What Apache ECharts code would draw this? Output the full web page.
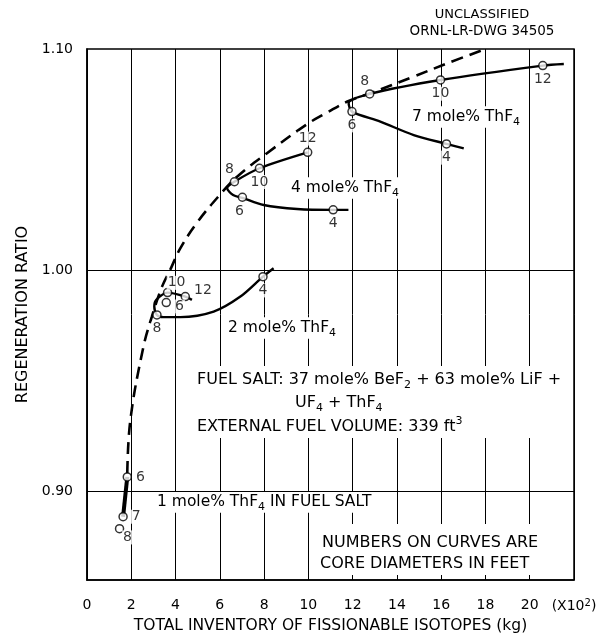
<!DOCTYPE html>
<html>
<head>
<meta charset="utf-8">
<script src="https://cdn.jsdelivr.net/npm/echarts@6/dist/echarts.min.js"></script>
<style>
  html, body { margin: 0; padding: 0; background: #fff; }
  #chart { width: 597px; height: 637px; }
</style>
</head>
<body>
<div id="chart"></div>
<script>
// axes: inventory in units of 100 kg, regeneration ratio
const xMin = 0, xMax = 22, xStep = 2;
const yMin = 0.86, yMax = 1.10, yStep = 0.02;
const yLabelValues = [0.90, 1.00, 1.10];
const yGridValues = [0.90, 1.00];

// dashed envelope curve
const envX = [1.82, 1.96, 2.54, 2.93, 3.39, 3.75, 4.22, 4.97, 5.95, 6.78, 8.13, 9.94, 10.83, 11.82, 12.8, 14.75, 16.27, 18.0];
const envY = [0.9084, 0.9324, 0.9650, 0.9790, 0.9926, 1.0000, 1.0100, 1.0215, 1.0335, 1.0423, 1.0529, 1.0660, 1.0712, 1.0765, 1.0800, 1.0875, 1.0935, 1.1000];

// 7 mole% ThF4
const c7TraceX = [21.54, 20.59, 15.97, 12.77, 11.82, 11.97, 13.25, 14.76, 16.24, 17.02];
const c7TraceY = [1.0932, 1.0925, 1.0860, 1.0797, 1.0755, 1.0717, 1.0672, 1.0611, 1.0571, 1.0551];
const c7Dia = [12, 10, 8, 6, 4];
const c7X = [20.59, 15.97, 12.77, 11.97, 16.24];
const c7Y = [1.0925, 1.0860, 1.0797, 1.0717, 1.0571];

// 4 mole% ThF4
const c4TraceX = [9.97, 7.79, 6.66, 6.33, 6.60, 7.02, 7.98, 9.49, 11.12, 11.81];
const c4TraceY = [1.0533, 1.0461, 1.0400, 1.0371, 1.0340, 1.0327, 1.0295, 1.0277, 1.0273, 1.0273];
const c4Dia = [12, 10, 8, 6, 4];
const c4X = [9.97, 7.79, 6.66, 7.02, 11.12];
const c4Y = [1.0533, 1.0461, 1.0400, 1.0330, 1.0273];

// 2 mole% ThF4
const c2TraceX = [4.74, 4.44, 3.64, 3.13, 3.04, 3.16, 3.46, 4.22, 5.72, 6.93, 7.95, 8.43];
const c2TraceY = [0.9866, 0.9881, 0.9899, 0.9866, 0.9836, 0.9798, 0.9788, 0.9788, 0.9813, 0.9881, 0.9971, 1.0009];
const c2Dia = [12, 10, 8, 6, 4];
const c2X = [4.44, 3.64, 3.16, 3.58, 7.95];
const c2Y = [0.9881, 0.9899, 0.9798, 0.9854, 0.9971];

// 1 mole% ThF4
const c1TraceX = [1.82, 1.63];
const c1TraceY = [0.9066, 0.8886];
const c1Dia = [6, 7, 8];
const c1X = [1.82, 1.63, 1.47];
const c1Y = [0.9066, 0.8886, 0.8832];

const FONT = '"DejaVu Sans", Verdana, sans-serif';
const zip = (xs, ys) => xs.map((x, i) => [x, ys[i]]);

// where the diameter numbers sit around each circle
const place = {
  bottom: { position: 'bottom', distance: 2 },
  top: { position: 'top', distance: 2 },
  right: { position: 'right', distance: 3 },
  topLeft: { position: 'top', distance: 1, offset: [-5, 0] },
  topRight: { position: 'top', distance: 0, offset: [9, 2] },
  bottomRight: { position: 'bottom', distance: 0, offset: [8, -3] },
  rightUp: { position: 'right', distance: 3, offset: [0, -6] },
  rightDown: { position: 'right', distance: 3, offset: [0, 4] },
  bottomLeft: { position: 'bottom', distance: 2, offset: [-3, 0] }
};
const labelPlace = {
  c7: { 12: 'bottom', 10: 'bottom', 8: 'topLeft', 6: 'bottom', 4: 'bottom' },
  c4: { 12: 'top', 10: 'bottom', 8: 'topLeft', 6: 'bottomLeft', 4: 'bottom' },
  c2: { 12: 'rightUp', 10: 'topRight', 8: 'bottom', 6: 'rightDown', 4: 'bottom' },
  c1: { 6: 'right', 7: 'right', 8: 'bottomRight' }
};

function traceSeries(xs, ys, width) {
  return {
    type: 'line', data: zip(xs, ys), showSymbol: false, smooth: 0.3, z: 3,
    lineStyle: { color: '#000', width: width || 2.4 }, silent: true
  };
}
function pointSeries(key, dia, xs, ys) {
  return {
    type: 'scatter', z: 4, symbol: 'circle', symbolSize: 8, silent: true,
    itemStyle: { color: '#fff', borderColor: '#000', borderWidth: 1.5 },
    data: dia.map((d, i) => ({
      value: [xs[i], ys[i]],
      label: Object.assign({ show: true, formatter: String(d) }, place[labelPlace[key][d]])
    })),
    label: { color: '#000', fontSize: 14, fontFamily: FONT, backgroundColor: '#fff', padding: [0, 1] }
  };
}

function richAt(size, extra) {
  const sub = Math.round(size * 0.68);
  const lh = size + (extra == null ? 6 : extra);
  return {
    n: { fontSize: size, fontFamily: FONT, color: '#000', lineHeight: lh, verticalAlign: 'middle' },
    sub: { fontSize: sub, fontFamily: FONT, color: '#000', lineHeight: lh, verticalAlign: 'bottom' },
    sup: { fontSize: sub, fontFamily: FONT, color: '#000', lineHeight: lh, verticalAlign: 'top' }
  };
}
function note(x, y, text, size, opts) {
  opts = opts || {};
  return {
    type: 'text', x: x, y: y, z: 1,
    style: {
      text: text, rich: richAt(size), fill: '#000', verticalAlign: 'middle',
      align: opts.align || 'left',
      backgroundColor: opts.bg === false ? null : '#fff', padding: [0, 3]
    }
  };
}

const chart = echarts.init(document.getElementById('chart'));
chart.setOption({
  animation: false,
  backgroundColor: '#fff',
  grid: {
    left: 87, right: 23, top: 49, bottom: 57, outerBoundsMode: 'none', containLabel: false,
    show: true, borderColor: '#000', borderWidth: 1.5
  },
  xAxis: {
    type: 'value', min: xMin, max: xMax, interval: xStep,
    name: 'TOTAL INVENTORY OF FISSIONABLE ISOTOPES (kg)', nameLocation: 'middle', nameGap: 38,
    nameTextStyle: { color: '#000', fontSize: 15.5, fontFamily: FONT },
    axisLine: { lineStyle: { color: '#000', width: 1.5 } },
    axisTick: { inside: true, length: 5, lineStyle: { color: '#000' } },
    splitLine: { show: true, lineStyle: { color: '#000', width: 1 } },
    axisLabel: {
      color: '#000', fontSize: 14, fontFamily: FONT, margin: 18, rich: richAt(14, 3),
      formatter: v => v === xMax ? '{n|(X10}{sup|2}{n|)}' : String(v)
    }
  },
  yAxis: {
    type: 'value', min: yMin, max: yMax, interval: yStep,
    name: 'REGENERATION RATIO', nameLocation: 'middle', nameGap: 56,
    nameTextStyle: { color: '#000', fontSize: 16, fontFamily: FONT },
    axisLine: { show: true, lineStyle: { color: '#000', width: 1.5 } },
    axisTick: { show: false },
    splitLine: { show: false },
    axisLabel: {
      color: '#000', fontSize: 14, fontFamily: FONT, margin: 14,
      formatter: v => yLabelValues.some(t => Math.abs(t - v) < 1e-6) ? v.toFixed(2) : ''
    }
  },
  graphic: [
    note(482, 15, '{n|UNCLASSIFIED}', 13, { align: 'center', bg: false }),
    note(482, 31, '{n|ORNL-LR-DWG 34505}', 13.5, { align: 'center', bg: false }),
    { type: 'rect', z: 1, shape: { x: 190, y: 366, width: 375, height: 72 }, style: { fill: '#fff' } },
    { type: 'rect', z: 1, shape: { x: 316, y: 524, width: 257, height: 50 }, style: { fill: '#fff' } },
    note(194, 380, '{n|FUEL SALT: 37 mole% BeF}{sub|2}{n| + 63 mole% LiF +}', 16),
    note(292, 403, '{n|UF}{sub|4}{n| + ThF}{sub|4}', 16),
    note(194, 427, '{n|EXTERNAL FUEL VOLUME: 339 ft}{sup|3}', 16),
    note(319, 543, '{n|NUMBERS ON CURVES ARE}', 16),
    note(317, 564, '{n|CORE DIAMETERS IN FEET}', 16),
    note(409, 117, '{n|7 mole% ThF}{sub|4}', 15.5),
    note(288, 188, '{n|4 mole% ThF}{sub|4}', 15.5),
    note(225, 328, '{n|2 mole% ThF}{sub|4}', 15.5),
    note(154, 502, '{n|1 mole% ThF}{sub|4}{n| IN FUEL SALT}', 15.5)
  ],
  series: [
    {
      type: 'line', data: [], silent: true, z: 1,
      markLine: {
        silent: true, symbol: 'none', label: { show: false }, animation: false,
        lineStyle: { color: '#000', width: 1, type: 'solid' },
        data: yGridValues.map(v => ({ yAxis: v }))
      }
    },
    {
      type: 'line', data: zip(envX, envY), showSymbol: false, smooth: 0.4, z: 3, silent: true,
      lineStyle: { color: '#000', width: 2.6, type: [12, 7] }
    },
    traceSeries(c7TraceX, c7TraceY),
    traceSeries(c4TraceX, c4TraceY),
    traceSeries(c2TraceX, c2TraceY),
    traceSeries(c1TraceX, c1TraceY, 4),
    pointSeries('c7', c7Dia, c7X, c7Y),
    pointSeries('c4', c4Dia, c4X, c4Y),
    pointSeries('c2', c2Dia, c2X, c2Y),
    pointSeries('c1', c1Dia, c1X, c1Y)
  ]
});
</script>
</body>
</html>
